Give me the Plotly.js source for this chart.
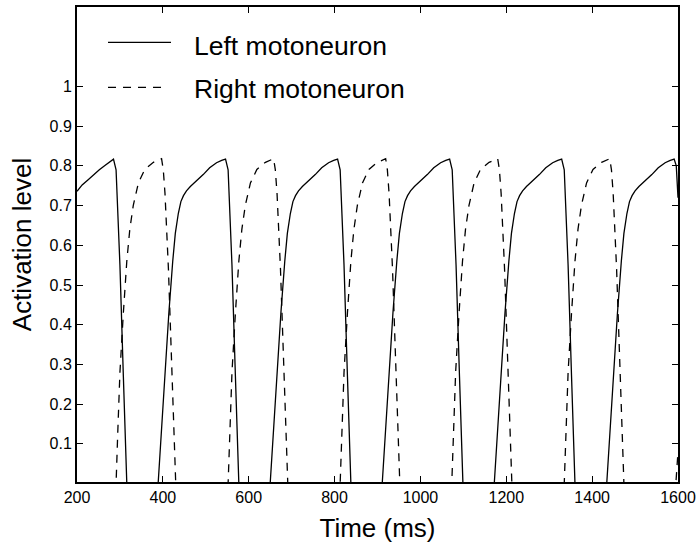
<!DOCTYPE html>
<html>
<head>
<meta charset="utf-8">
<script src="https://cdn.plot.ly/plotly-3.0.1.min.js"></script>
<style>html,body{margin:0;padding:0;background:#fff;}#chart{width:698px;height:547px;}</style>
</head>
<body>
<div id="chart"></div>
<script>
// Left motoneuron (solid)
var leftTime = [200,212,226,240,252,265,276,285,291,300,308,316,
  389,397,405,414,423,429,436,442,448,455,464,479,494,509,525,537,546,552,561,569,577,
  650,658,666,675,684,690,697,703,709,716,725,740,755,770,786,798,807,813,822,830,838,
  911,919,927,936,945,951,958,964,970,977,986,1001,1016,1031,1047,1059,1068,1074,1083,1091,1099,
  1172,1180,1188,1197,1206,1212,1219,1225,1231,1238,1247,1262,1277,1292,1308,1320,1329,1335,1344,1352,1360,
  1434,1442,1450,1459,1468,1474,1481,1487,1493,1500,1509,1524,1539,1554,1570,1582,1591,1596,1600];
var leftLevel = [0.736,0.752,0.765,0.779,0.790,0.801,0.810,0.817,0.79,0.55,0.27,0,
  0,0.14,0.28,0.43,0.56,0.63,0.68,0.71,0.725,0.737,0.748,0.762,0.778,0.795,0.808,0.814,0.817,0.79,0.55,0.27,0,
  0,0.14,0.28,0.43,0.56,0.63,0.68,0.71,0.725,0.737,0.748,0.762,0.778,0.795,0.808,0.814,0.817,0.79,0.55,0.27,0,
  0,0.14,0.28,0.43,0.56,0.63,0.68,0.71,0.725,0.737,0.748,0.762,0.778,0.795,0.808,0.814,0.817,0.79,0.55,0.27,0,
  0,0.14,0.28,0.43,0.56,0.63,0.68,0.71,0.725,0.737,0.748,0.762,0.778,0.795,0.808,0.814,0.817,0.79,0.55,0.27,0,
  0,0.14,0.28,0.43,0.56,0.63,0.68,0.71,0.725,0.737,0.748,0.762,0.778,0.795,0.808,0.814,0.817,0.80,0.72];

// Right motoneuron (dashed)
var rightTime = [200,291,295,300,308,316,323,331,343,358,378,391,397,401,405,413,421,430,
  552,556,561,569,577,584,592,604,619,639,652,658,662,666,674,682,691,
  813,817,822,830,838,845,853,865,880,900,913,919,923,927,935,943,952,
  1073,1077,1082,1090,1098,1105,1113,1125,1140,1160,1173,1180,1184,1188,1196,1204,1213,
  1335,1339,1344,1352,1360,1367,1375,1387,1402,1422,1435,1441,1445,1449,1457,1465,1474,
  1595,1600];
var rightLevel = [0,0,0.13,0.28,0.43,0.56,0.64,0.70,0.757,0.791,0.809,0.816,0.818,0.79,0.73,0.54,0.28,0,
  0,0.13,0.28,0.43,0.56,0.64,0.70,0.757,0.791,0.809,0.816,0.818,0.79,0.73,0.54,0.28,0,
  0,0.13,0.28,0.43,0.56,0.64,0.70,0.757,0.791,0.809,0.816,0.818,0.79,0.73,0.54,0.28,0,
  0,0.13,0.28,0.43,0.56,0.64,0.70,0.757,0.791,0.809,0.816,0.818,0.79,0.73,0.54,0.28,0,
  0,0.13,0.28,0.43,0.56,0.64,0.70,0.757,0.791,0.809,0.816,0.818,0.79,0.73,0.54,0.28,0,
  0,0.08];

var xTicks = [200,400,600,800,1000,1200,1400,1600];
var yTicks = [0.1,0.2,0.3,0.4,0.5,0.6,0.7,0.8,0.9,1];
var yTickText = ['0.1','0.2','0.3','0.4','0.5','0.6','0.7','0.8','0.9','1'];
var seriesNames = ['Left motoneuron','Right motoneuron'];

var FONT = 'Liberation Sans, Arial, Helvetica, sans-serif';

var traces = [
  {x: leftTime, y: leftLevel, type: 'scatter', mode: 'lines', name: seriesNames[0],
   line: {color: '#000', width: 1.3}, showlegend: false},
  {x: rightTime, y: rightLevel, type: 'scatter', mode: 'lines', name: seriesNames[1],
   line: {color: '#000', width: 1.3, dash: '8px,7px'}, showlegend: false}
];

var axisCommon = {
  showgrid: false, zeroline: false, showline: true, linecolor: '#000', linewidth: 2,
  mirror: 'ticks', ticks: 'inside', ticklen: 6, tickwidth: 1, tickcolor: '#000',
  tickfont: {family: FONT, size: 16, color: '#000'}
};

var layout = {
  width: 698, height: 547,
  margin: {l: 77, r: 20, t: 7, b: 65},
  paper_bgcolor: '#fff', plot_bgcolor: '#fff',
  showlegend: false,
  xaxis: Object.assign({}, axisCommon, {
    range: [200, 1600], tickvals: xTicks, ticktext: xTicks.map(String),
    title: {text: 'Time (ms)', font: {family: FONT, size: 26, color: '#000'}, standoff: 14}
  }),
  yaxis: Object.assign({}, axisCommon, {
    range: [0.004, 1.2], tickvals: yTicks, ticktext: yTickText,
    title: {text: 'Activation level', font: {family: FONT, size: 26, color: '#000'}, standoff: 10}
  }),
  shapes: [
    {type: 'line', xref: 'paper', yref: 'paper', x0: 0.0516, x1: 0.1564, y0: 0.9257, y1: 0.9257,
     line: {color: '#000', width: 1.3}},
    {type: 'line', xref: 'paper', yref: 'paper', x0: 0.0516, x1: 0.1464, y0: 0.831, y1: 0.831,
     line: {color: '#000', width: 1.3, dash: '8px,7px'}}
  ],
  annotations: [
    {xref: 'paper', yref: 'paper', x: 0.1913, y: 0.917, xanchor: 'left', yanchor: 'middle',
     text: seriesNames[0], showarrow: false, font: {family: FONT, size: 26.5, color: '#000'}},
    {xref: 'paper', yref: 'paper', x: 0.1913, y: 0.827, xanchor: 'left', yanchor: 'middle',
     text: seriesNames[1], showarrow: false, font: {family: FONT, size: 26.5, color: '#000'}}
  ]
};

Plotly.newPlot('chart', traces, layout, {displayModeBar: false, staticPlot: true});
</script>
</body>
</html>
